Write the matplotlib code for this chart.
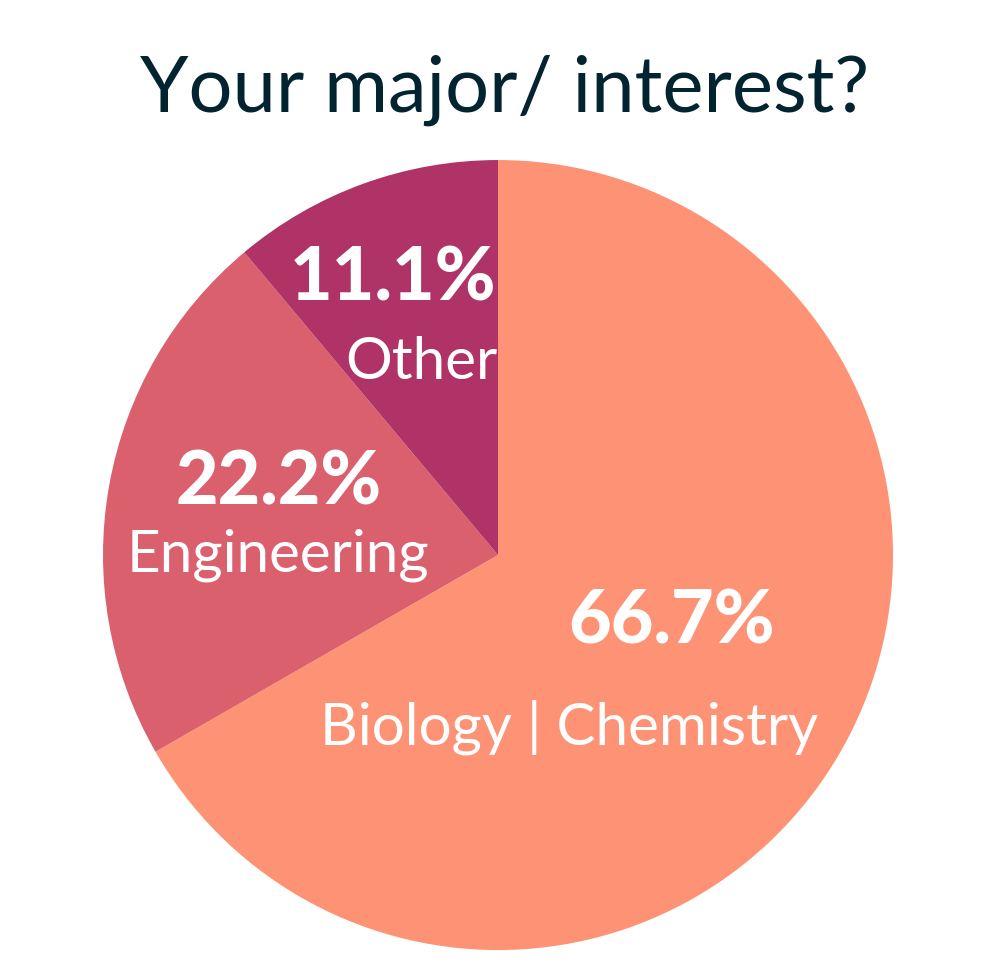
import matplotlib
matplotlib.use("Agg")
import matplotlib.pyplot as plt

# data
labels = ["Biology | Chemistry", "Engineering", "Other"]
values = [66.7, 22.2, 11.1]
colors = ["#FE9274", "#DB606E", "#AF3366"]
title = "Your major/ interest?"

# text anchor positions (data units, pie radius = 1): (pct_xy, name_xy)
label_pos = [((0.44, -0.17), (0.18, -0.435)),
             ((-0.556, 0.182), (-0.556, 0.0)),
             ((-0.266, 0.70), (-0.193, 0.488))]

fig = plt.figure(figsize=(10, 9.77), dpi=100)
ax = fig.add_axes([0.103, 0.0276, 0.79, 0.8086])
ax.pie(values, colors=colors, startangle=90, counterclock=False,
       wedgeprops=dict(linewidth=0))
ax.set_xlim(-1, 1)
ax.set_ylim(-1, 1)
ax.set_aspect("equal")
ax.axis("off")

for lab, v, (pxy, nxy) in zip(labels, values, label_pos):
    ax.text(pxy[0], pxy[1], "%.1f%%" % v, ha="center", va="center",
            color="white", fontsize=53, fontweight="black", family="Lato")
    ax.text(nxy[0], nxy[1], lab, ha="center", va="center",
            color="white", fontsize=42, family="Lato")

fig.text(0.505, 0.908, title, ha="center", va="center", color="#022330",
         fontsize=56, family="Lato")

fig.savefig("out.png", dpi=100)
